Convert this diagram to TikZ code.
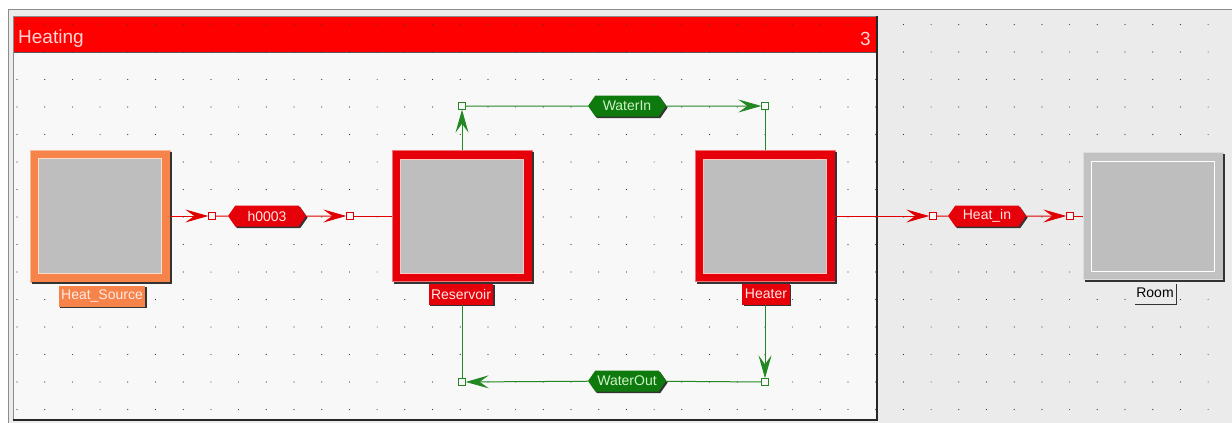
\documentclass[tikz,border=0pt]{standalone}
\usepackage{fontspec}
\setmainfont{Liberation Sans}
\usetikzlibrary{arrows.meta,shapes.symbols,calc}

\definecolor{canvas}{HTML}{EBEBEB}
\definecolor{sheet}{HTML}{F8F8F8}
\definecolor{titlered}{HTML}{FF0000}
\definecolor{titletext}{HTML}{FFD4D4}
\definecolor{heatred}{HTML}{E6000A}
\definecolor{redline}{HTML}{FFC8C0}
\definecolor{srcorange}{HTML}{F5834A}
\definecolor{srcline}{HTML}{FFDCC8}
\definecolor{roomgray}{HTML}{C2C2C2}
\definecolor{coregray}{HTML}{BEBEBE}
\definecolor{flowred}{HTML}{E00000}
\definecolor{flowgreen}{HTML}{238823}
\definecolor{hexgreen}{HTML}{0E7A0E}
\definecolor{greentext}{HTML}{CDF2C6}
\definecolor{labeltext}{HTML}{FFEAE4}
\definecolor{dotc}{HTML}{3A3A3A}
\definecolor{shade}{HTML}{333333}

\tikzset{
  % component block: coloured band, thin inner line, grey core
  blk/.style n args={3}{rectangle, inner sep=0, minimum width=140, minimum height=#3,
    fill=#1, draw=#1!55!white, line width=0.8,
    path picture={
      \fill[coregray] ([xshift=8pt,yshift=-8pt]path picture bounding box.north west)
        rectangle ([xshift=-8pt,yshift=8pt]path picture bounding box.south east);
      \draw[#2, line width=1] ([xshift=8.5pt,yshift=-8.5pt]path picture bounding box.north west)
        rectangle ([xshift=-8.5pt,yshift=8.5pt]path picture bounding box.south east);
    }},
  % dark drop edge along the right and bottom of a block
  dropedge/.style={draw=shade, line width=2},
  lbl/.style={fill=#1, text=labeltext, inner xsep=2.5, inner ysep=0, minimum height=21,
    font=\fontsize{14}{16}\selectfont,
    preaction={fill=shade, transform canvas={shift={(1.2pt,-1.2pt)}}}},
  hexf/.style={signal, signal to=west and east, signal pointer angle=110,
    fill=#1, inner sep=0, minimum width=78, minimum height=21,
    font=\fontsize{14}{16}\selectfont,
    preaction={fill=shade, transform canvas={shift={(1.6pt,-1.6pt)}}}},
  port/.style={rectangle, draw=#1, fill=sheet, minimum size=6.5, inner sep=0, line width=0.9},
  redflow/.style={draw=flowred, line width=1},
  greenflow/.style={draw=flowgreen, line width=1},
  % barbed flow arrow
  >={Stealth[length=23pt,width=13pt,inset=9pt]},
}

\begin{document}
\begin{tikzpicture}[x=1pt,y=-1pt]
\useasboundingbox (0,0) rectangle (1232,423);

% drawing area
\fill[white] (0,0) rectangle (1232,423);
\fill[canvas] (8,9) rectangle (1232,423);
\draw[black!45, line width=1] (8.5,423) |- (1232,9.5);

% the "Heating" sheet with its title bar
\fill[sheet] (13,16) rectangle (878,420);
\fill[titlered] (14,17) rectangle (877,52);
\draw[black!65, line width=1] (14,52.5) -- (877,52.5);

% snap grid
\foreach \i in {0,...,43}
  \foreach \j in {0,...,14}
    \fill[dotc] ({17+27.7*\i},{24.5+27.5*\j}) circle (0.6);

% sheet border
\draw[black!45, line width=1] (13.5,420) -- (13.5,16.5) -- (877,16.5);
\draw[black!85, line width=2] (877,16) |- (13,420);

\node[anchor=west, text=titletext, font=\fontsize{19}{22}\selectfont, inner sep=0] (title) at (18,39) {Heating};
\node[anchor=east, text=titletext, font=\fontsize{19}{22}\selectfont, inner sep=0] (num) at (871,39) {3};

% components
\node[blk={srcorange}{srcline}{132}] (src) at (100,216) {};
\node[blk={heatred}{redline}{131}] (res) at (462,216) {};
\node[blk={heatred}{redline}{131}] (htr) at (765,216) {};
\node[blk={roomgray}{white}{127}] (room) at (1153,216) {};
\foreach \b in {src,res,htr,room}
  \draw[dropedge] ([xshift=1pt,yshift=-2pt]\b.north east) |- ([xshift=2pt,yshift=-1pt]\b.south west);

\node[lbl=srcorange] (srcl) at (102,296) {Heat\_Source};
\node[lbl=heatred] (resl) at (461,294.5) {Reservoir};
\node[lbl=heatred] (htrl) at (766,294) {Heater};
\node[lbl=canvas, text=black] (rooml) at (1155,293) {Room};

% flow labels
\node[hexf=heatred, text=labeltext] (hexA) at (267,216) {h0003};
\node[hexf=hexgreen, text=greentext] (hexWI) at (627,106) {WaterIn};
\node[hexf=hexgreen, text=greentext] (hexWO) at (627,381) {WaterOut};
\node[hexf=heatred, text=labeltext] (hexHI) at (987,216) {Heat\_in};

% connection ports
\node[port=flowred] (sqA) at (212,216) {};
\node[port=flowred] (sqB) at (350,216) {};
\node[port=flowgreen] (sqC) at (462,106) {};
\node[port=flowgreen] (sqD) at (765,106) {};
\node[port=flowgreen] (sqE) at (765,382) {};
\node[port=flowgreen] (sqF) at (462,382) {};
\node[port=flowred] (sqG) at (933,216) {};
\node[port=flowred] (sqH) at (1070,216) {};

% heat flow from the source into the reservoir
\draw[redflow,->] (src) -- (sqA);
\draw[redflow] (sqA) -- (hexA);
\draw[redflow,->] (hexA) -- (sqB);
\draw[redflow] (sqB) -- (res);

% water loop between reservoir and heater
\draw[greenflow,->] (res) -- (sqC);
\draw[greenflow] (sqC) -- (hexWI);
\draw[greenflow,->] (hexWI) -- (sqD);
\draw[greenflow] (sqD) -- (htr);
\draw[greenflow,->] (htrl.south -| sqE) -- (sqE);
\draw[greenflow] (sqE) -- (hexWO);
\draw[greenflow,->] (hexWO) -- (sqF);
\draw[greenflow] (sqF) -- (sqF |- resl.south);

% heat delivered to the room
\draw[redflow,->] (htr) -- (sqG);
\draw[redflow] (sqG) -- (hexHI);
\draw[redflow,->] (hexHI) -- (sqH);
\draw[redflow] (sqH) -- (room);
\end{tikzpicture}
\end{document}
